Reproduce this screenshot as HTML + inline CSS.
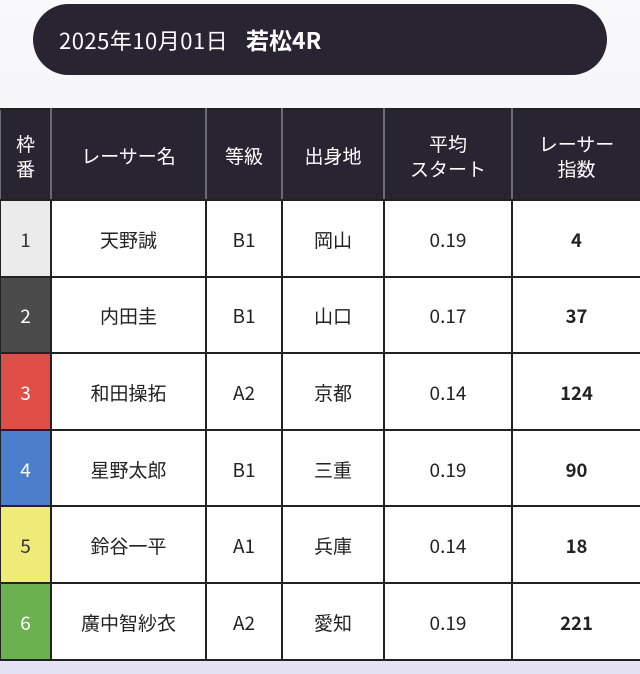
<!DOCTYPE html>
<html><head><meta charset="utf-8"><style>
*{margin:0;padding:0;box-sizing:border-box}
body{width:640px;height:674px;overflow:hidden;background:linear-gradient(#f9f9fb 0%,#f3f3f8 40%,#e3e3f6 100%);font-family:"Noto Sans CJK JP","Liberation Sans",sans-serif;position:relative}
.pill{position:absolute;left:33px;top:4px;width:574px;height:71px;border-radius:36px;background:#282432;color:#fff;}
.pill .d{position:absolute;left:26px;top:20px;font-size:22px;letter-spacing:0.5px;line-height:32px}
.pill .r{position:absolute;left:213px;top:19px;font-size:23px;font-weight:bold;line-height:32px}
table{position:absolute;left:-1px;top:108px;border-collapse:collapse;table-layout:fixed;width:641px}
td,th{border:2px solid #222;text-align:center;vertical-align:middle;font-size:19px;color:#222;background:#fff;font-weight:normal;line-height:24px}
th{background:#282432;color:#fff;height:91px;border-color:#222 #6a6a72;line-height:25px;padding-top:2px}
td{height:76.6px;padding-top:3px}
td.b{font-weight:bold;font-size:18.5px}
</style></head><body>
<div class="pill"><span class="d">2025年10月01日</span><span class="r">若松4R</span></div>
<table>
<colgroup><col style="width:51px"><col style="width:155px"><col style="width:76px"><col style="width:102px"><col style="width:128px"><col style="width:129px"></colgroup>
<tr><th>枠<br>番</th><th>レーサー名</th><th>等級</th><th>出身地</th><th>平均<br>スタート</th><th>レーサー<br>指数</th></tr>
<tr><td style="background:#ebebeb;color:#333">1</td><td>天野誠</td><td>B1</td><td>岡山</td><td>0.19</td><td class="b">4</td></tr>
<tr><td style="background:#4b4b4b;color:#fff">2</td><td>内田圭</td><td>B1</td><td>山口</td><td>0.17</td><td class="b">37</td></tr>
<tr><td style="background:#df4e47;color:#fff">3</td><td>和田操拓</td><td>A2</td><td>京都</td><td>0.14</td><td class="b">124</td></tr>
<tr><td style="background:#4b7fcb;color:#fff">4</td><td>星野太郎</td><td>B1</td><td>三重</td><td>0.19</td><td class="b">90</td></tr>
<tr><td style="background:#f0ea78;color:#333">5</td><td>鈴谷一平</td><td>A1</td><td>兵庫</td><td>0.14</td><td class="b">18</td></tr>
<tr><td style="background:#6bb150;color:#fff">6</td><td>廣中智紗衣</td><td>A2</td><td>愛知</td><td>0.19</td><td class="b">221</td></tr>
</table>
</body></html>
